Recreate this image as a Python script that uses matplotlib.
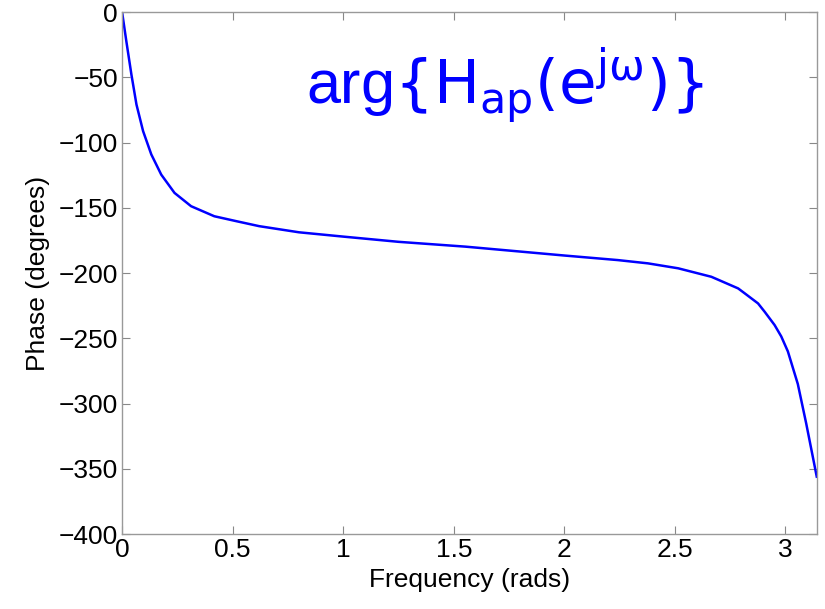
import numpy as np
import matplotlib.pyplot as plt

plt.rcParams['font.family'] = ['Liberation Sans', 'DejaVu Sans']

# frequency (rad) and phase (degrees)
freq = [0.0, 0.019, 0.042, 0.065, 0.095, 0.132, 0.177, 0.237, 0.312, 0.417,
        0.52, 0.62, 0.80, 1.0, 1.25, 1.553, 2.0, 2.242, 2.378, 2.515,
        2.545, 2.665, 2.695, 2.786, 2.816, 2.876, 2.906, 2.951, 2.981, 3.011,
        3.056, 3.094, np.pi]
phase = [0.0, -22.1, -47.7, -70.8, -91.2, -109.0, -124.5, -138.5, -148.7, -156.4,
         -160.3, -164.0, -168.7, -172.0, -176.0, -179.7, -186.5, -190.0, -192.5, -196.3,
         -197.6, -202.8, -205.0, -211.7, -215.5, -223.2, -229.6, -239.8, -248.5, -260.0,
         -285.0, -315.3, -356.0]

xticks = [0, 0.5, 1, 1.5, 2, 2.5, 3]
yticks = [0, -50, -100, -150, -200, -250, -300, -350, -400]

fig = plt.figure(figsize=(8.25, 6.09), dpi=100)
ax = fig.add_axes([0.148, 0.123, 0.842, 0.857])
ax.plot(freq, phase, color='#0000ff', lw=1.8)

ax.set_xlim(0, np.pi)
ax.set_ylim(-400, 0)
ax.set_xticks(xticks)
ax.set_xticklabels(['0', '0.5', '1', '1.5', '2', '2.5', '3'])
ax.set_yticks(yticks)
ax.set_yticklabels(['0', '\u221250', '\u2212100', '\u2212150', '\u2212200',
                    '\u2212250', '\u2212300', '\u2212350', '\u2212400'])
ax.tick_params(direction='in', length=6, width=0.8, color='#888888',
               top=True, right=True, labelsize=19, pad=3)
for s in ax.spines.values():
    s.set_color('#999999')
    s.set_linewidth(1.0)

ax.set_xlabel('Frequency (rads)', fontsize=19, labelpad=4)
ax.set_ylabel('Phase (degrees)', fontsize=19, labelpad=6)

ax.text(0.83, -56, r'arg$\{\mathrm{H_{ap}(e^{j\omega})}\}$', color='#0000ff',
        fontsize=44, ha='left', va='center')

fig.savefig('out.png', dpi=100)
